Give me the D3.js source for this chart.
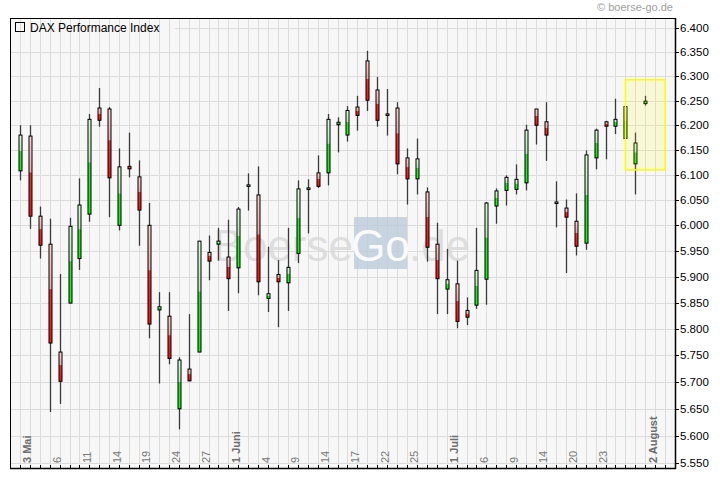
<!DOCTYPE html>
<html><head><meta charset="utf-8">
<script src="https://cdn.jsdelivr.net/npm/d3@7"></script>
<style>body{margin:0;background:#fff}svg{display:block;font-family:"Liberation Sans",Arial,sans-serif}</style>
</head><body><svg id="c" width="720" height="481"></svg>
<script>
const openV  = [6108,6178,6018,5963,5756,5849,5935,6022,6235,6233,6000,6117,6096,6000,5836,5824,5650,5724,5756,5947,5963,5938,5917,6078,6060,5858,5904,5888,5945,6072,6104,6104,6201,6180,6237,6332,6272,6223,6235,6134,6092,6066,5963,5876,5886,5835,5845,5895,6038,6069,6071,6084,6233,6207,6046,6034,6008,5965,6134,6207,6198,6173,6122,6244];
const highV  = [6200,6200,6037,6013,5905,6015,6093,6223,6276,6237,6153,6185,6129,6044,5870,5870,5746,5828,5969,5980,5995,6011,6036,6103,6117,5958,5932,5995,6089,6091,6139,6223,6216,6239,6260,6353,6299,6274,6247,6153,6173,6075,6005,5954,5931,5860,5995,6046,6073,6099,6121,6201,6233,6247,6087,6051,6063,6149,6193,6209,6254,6240,6185,6260];
const lowV   = [6089,5993,5935,5644,5659,5849,5913,6007,6197,6016,5990,6095,5960,5782,5697,5733,5612,5701,5756,5893,5931,5834,5868,6029,5864,5832,5803,5834,5926,5984,6074,6079,6145,6167,6189,6229,6197,6179,6101,6041,6061,5929,5828,5828,5801,5807,5838,5846,6003,6039,6061,6069,6161,6128,5996,5907,5941,5952,6111,6131,6182,6172,6061,6240];
const closeV = [6180,6018,5961,5773,5701,5998,6040,6212,6210,6094,6116,6112,6030,5809,5842,5744,5741,5702,5969,5930,5969,5896,6032,6080,5890,5867,5890,5918,6072,6074,6077,6212,6206,6230,6220,6251,6210,6221,6122,6092,6132,5957,5896,5894,5814,5822,5912,6044,6068,6095,6091,6190,6200,6180,6044,6016,5959,6140,6190,6198,6212,6238,6164,6249];
const labelIdx  = [1,4,7,10,13,16,19,22,25,28,31,34,37,40,44,47,50,53,56,59,64];
const labelText = ["3 Mai","6","11","14","19","24","27","1 Juni","4","9","14","17","22","25","1 Juli","6","9","14","20","23","2 August"];
const labelBold = [true,false,false,false,false,false,false,true,false,false,false,false,false,false,true,false,false,false,false,false,true];
const yTicks = d3.range(5550, 6401, 50);
const boxIdx = [61, 65];
const boxVal = [6110, 6293];
const titleText = "DAX Performance Index";
const copyText = "\u00a9 boerse-go.de";

const L = 10, R = 675, T = 18, B = 468;
const svg = d3.select("#c");
const x = d3.scaleLinear().domain([-1, 66]).range([L, R]);
const y = d3.scaleLog().domain([5550, 6400]).range([463.3, 28.3]);
const de = d3.formatLocale({decimal:",", thousands:".", grouping:[3], currency:["","€"]});
const fmt = de.format(",.0f");

const defs = svg.append("defs");
function grad(id, c1, c2, c3, c4){
  const g = defs.append("linearGradient").attr("id", id).attr("x1",0).attr("y1",0).attr("x2",0).attr("y2",1);
  g.append("stop").attr("offset","0%").attr("stop-color",c1);
  g.append("stop").attr("offset","45%").attr("stop-color",c2);
  g.append("stop").attr("offset","46%").attr("stop-color",c3);
  g.append("stop").attr("offset","100%").attr("stop-color",c4);
}
grad("gUp", "#d8ffd8", "#b0f4b0", "#30e030", "#00ff00");
grad("gDn", "#ffd0d0", "#f4a8a8", "#ee3030", "#ff1010");

svg.append("rect").attr("x",L).attr("y",T).attr("width",R-L).attr("height",B-T).attr("fill","#f7f7f7");

const idx = d3.range(openV.length);
const gridIdx = d3.range(0, 66);
svg.append("g").selectAll("line").data(gridIdx).join("line")
  .attr("x1", d=>Math.round(x(d))+0.5).attr("x2", d=>Math.round(x(d))+0.5)
  .attr("y1", T).attr("y2", B).attr("stroke","#dcdcdc").attr("stroke-width",1);
svg.append("g").selectAll("line").data(yTicks).join("line")
  .attr("x1", d => d===6400 ? 175 : L).attr("x2", R)
  .attr("y1", d=>Math.round(y(d))+0.5).attr("y2", d=>Math.round(y(d))+0.5)
  .attr("stroke","#dcdcdc").attr("stroke-width",1);

// watermark
const wm = svg.append("g");
wm.append("rect").attr("x",354).attr("y",217).attr("width",53).attr("height",52).attr("fill","#bccad8").attr("opacity",0.8);
wm.append("text").attr("x",353).attr("y",261).attr("text-anchor","end").attr("font-size",44).attr("fill","#dadada").attr("opacity",0.85).text("Boerse");
wm.append("text").attr("x",380.5).attr("y",261).attr("text-anchor","middle").attr("font-size",44).attr("fill","#ffffff").attr("opacity",0.9).text("Go");
wm.append("text").attr("x",409).attr("y",261).attr("font-size",44).attr("fill","#dadada").attr("opacity",0.85).text(".de");

// candles
const cg = svg.append("g");
cg.selectAll("line").data(idx).join("line")
  .attr("x1", i=>Math.round(x(i))+0.5).attr("x2", i=>Math.round(x(i))+0.5)
  .attr("y1", i=>y(highV[i])).attr("y2", i=>y(lowV[i]))
  .attr("stroke","#3a3a3a").attr("stroke-width",1.3);
cg.selectAll("rect").data(idx).join("rect")
  .attr("x", i=>Math.round(x(i))-1).attr("width", 3)
  .attr("y", i=>y(Math.max(openV[i],closeV[i])))
  .attr("height", i=>Math.max(1.5, Math.abs(y(openV[i])-y(closeV[i]))))
  .attr("fill", i=> closeV[i]>=openV[i] ? "url(#gUp)" : "url(#gDn)")
  .attr("stroke","#000").attr("stroke-width",1);

// highlight box
svg.append("rect").attr("x", x(boxIdx[0])).attr("y", y(boxVal[1]))
  .attr("width", x(boxIdx[1])-x(boxIdx[0])).attr("height", y(boxVal[0])-y(boxVal[1]))
  .attr("fill","rgba(255,255,0,0.13)").attr("stroke","#ffff00").attr("stroke-width",1.5);

// frame
svg.append("line").attr("x1",L).attr("x2",R).attr("y1",T+0.5).attr("y2",T+0.5).attr("stroke","#000");
svg.append("line").attr("x1",L+0.5).attr("x2",L+0.5).attr("y1",T).attr("y2",B).attr("stroke","#000");
svg.append("line").attr("x1",L).attr("x2",R+1).attr("y1",B+0.5).attr("y2",B+0.5).attr("stroke","#000").attr("stroke-width",1.5);
svg.append("line").attr("x1",R+0.5).attr("x2",R+0.5).attr("y1",T).attr("y2",B+1).attr("stroke","#000").attr("stroke-width",1.5);

// bottom ticks
svg.append("g").selectAll("line").data(gridIdx).join("line")
  .attr("x1", d=>Math.round(x(d))+0.5).attr("x2", d=>Math.round(x(d))+0.5)
  .attr("y1", B-3).attr("y2", B).attr("stroke","#000");

// right axis
const ra = svg.append("g");
ra.selectAll("line").data(yTicks).join("line")
  .attr("x1",R).attr("x2",R+4).attr("y1",d=>Math.round(y(d))+0.5).attr("y2",d=>Math.round(y(d))+0.5).attr("stroke","#000");
ra.selectAll("text").data(yTicks).join("text")
  .attr("x",R+5).attr("y",d=>y(d)+4).attr("font-size",11.5).attr("fill","#000").text(d=>fmt(d));

// x labels
svg.append("g").selectAll("text").data(labelIdx).join("text")
  .attr("transform",(d,k)=>`translate(${x(d)+1.5},463) rotate(-90)`)
  .attr("font-size",11).attr("font-weight",(d,k)=>labelBold[k]?"bold":"normal")
  .attr("fill",(d,k)=>labelBold[k]?"#6e6e6e":"#7a7a7a")
  .text((d,k)=>labelText[k]);

// legend
svg.append("rect").attr("x",15.5).attr("y",22.5).attr("width",9).attr("height",9).attr("fill","none").attr("stroke","#000");
svg.append("text").attr("x",30).attr("y",31.5).attr("font-size",12).attr("fill","#000").text(titleText);

svg.append("text").attr("x",673).attr("y",11).attr("text-anchor","end").attr("font-size",11).attr("fill","#a0a0a0").text(copyText);
</script></body></html>
